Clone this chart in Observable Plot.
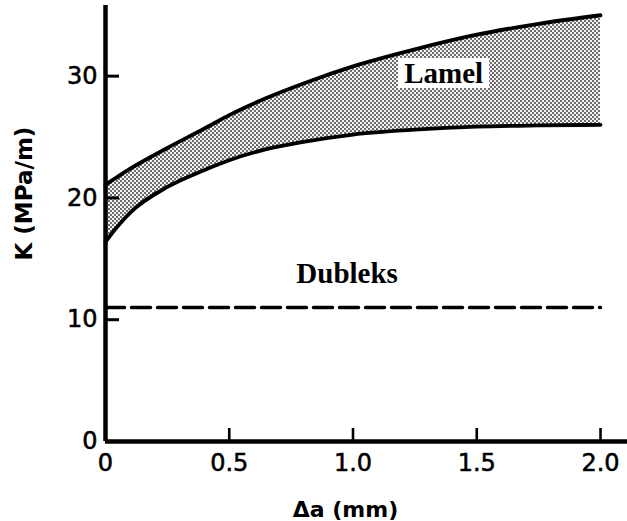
<!DOCTYPE html>
<html>
<head>
<meta charset="utf-8">
<script src="https://cdn.jsdelivr.net/npm/d3@7"></script>
<script src="https://cdn.jsdelivr.net/npm/@observablehq/plot@0.6"></script>
<style>
  html, body { margin: 0; padding: 0; background: #fff; }
  #chart svg { display: block; }
  #chart g[aria-label="y-axis tick label"] text,
  #chart g[aria-label="x-axis tick label"] text { stroke: #000; stroke-width: 0.55px; }
</style>
</head>
<body>
<div id="chart"></div>
<script>
// Crack extension Δa (mm) and fracture toughness K (MPa√m)
const da = [0, 0.05, 0.1, 0.25, 0.4, 0.5, 0.65, 0.8, 1.0, 1.25, 1.5, 1.75, 2.0];
const kLamelUpper = [21.1, 21.75, 22.4, 24.1, 25.7, 26.8, 28.2, 29.4, 30.8, 32.2, 33.4, 34.3, 35.0];
const kLamelLower = [16.4, 17.7, 18.8, 20.9, 22.3, 23.1, 24.0, 24.6, 25.2, 25.6, 25.85, 25.95, 26.0];

const dubleksDa = [0, 2.0];
const dubleksK = [11.0, 11.0];

const xTicks = [0, 0.5, 1.0, 1.5, 2.0];
const xTickLabels = ["0", "0.5", "1.0", "1.5", "2.0"];
const yTicks = [0, 10, 20, 30];
const yTickLabels = ["0", "10", "20", "30"];

const seriesLabels = [
  {name: "Lamel", da: 1.366, k: 30.2},
  {name: "Dubleks", da: 0.976, k: 13.8}
];

const lamel = da.map((d, i) => ({da: d, lower: kLamelLower[i], upper: kLamelUpper[i]}));
const dubleks = dubleksDa.map((d, i) => ({da: d, k: dubleksK[i]}));

const sans = "DejaVu Sans, Liberation Sans, sans-serif";
const serif = "Liberation Serif, Times New Roman, serif";

const plot = Plot.plot({
  width: 627,
  height: 521,
  marginLeft: 105,
  marginRight: 0,
  marginTop: 5,
  marginBottom: 80,
  style: {fontFamily: sans, background: "#fff", color: "#000"},
  x: {domain: [0, 2.109], label: null},
  y: {domain: [0, 35.8], label: null},
  marks: [
    // shaded band between the two Lamel curves
    Plot.areaY(lamel, {x: "da", y1: "lower", y2: "upper", curve: "monotone-x", fill: "url(#lamel-dots)"}),
    Plot.line(lamel, {x: "da", y: "upper", curve: "monotone-x", stroke: "#000", strokeWidth: 3.8}),
    Plot.line(lamel, {x: "da", y: "lower", curve: "monotone-x", stroke: "#000", strokeWidth: 3.8}),
    // Dubleks level
    Plot.line(dubleks, {x: "da", y: "k", stroke: "#000", strokeWidth: 3.5, strokeDasharray: "19,7"}),
    // inward ticks
    Plot.axisY(yTicks, {tickSize: -14, text: null, strokeWidth: 3}),
    Plot.axisX(xTicks, {tickSize: -13, text: null, strokeWidth: 2.6}),
    // tick labels
    Plot.axisY(yTicks, {tickSize: 0, tickPadding: 8, fontSize: 24, tickFormat: (d) => yTickLabels[yTicks.indexOf(d)]}),
    Plot.axisX(xTicks, {tickSize: 0, tickPadding: 12, fontSize: 24, tickFormat: (d) => xTickLabels[xTicks.indexOf(d)]}),
    // axis lines
    Plot.ruleX([0], {stroke: "#000", strokeWidth: 4.5}),
    Plot.ruleY([0], {stroke: "#000", strokeWidth: 4.5}),
    // axis titles
    Plot.text(["K (MPa/m)"], {frameAnchor: "left", rotate: -90, dx: -81, dy: 37, fontSize: 23, fontWeight: "bold"}),
    Plot.text(["Δa (mm)"], {frameAnchor: "bottom", dx: -21, dy: 75, fontSize: 22, fontWeight: "bold"}),
    // series names
    Plot.text(seriesLabels, {x: "da", y: "k", text: "name", fontFamily: serif, fontWeight: "bold", fontSize: 29, fill: "#000"})
  ]
});

document.getElementById("chart").appendChild(plot);

// dotted screen used for the shaded band
const svgNS = "http://www.w3.org/2000/svg";
const defs = document.createElementNS(svgNS, "defs");
defs.innerHTML = `
  <pattern id="lamel-dots" width="4" height="4" patternUnits="userSpaceOnUse">
    <rect width="4" height="4" fill="#f4f4f4"></rect>
    <circle cx="1" cy="1" r="0.9" fill="#2a2a2a"></circle>
    <circle cx="3" cy="3" r="0.9" fill="#2a2a2a"></circle>
  </pattern>`;
plot.insertBefore(defs, plot.firstChild);

// white box behind the Lamel name
for (const t of plot.querySelectorAll("text")) {
  if (t.textContent === "Lamel") {
    const b = t.getBBox();
    const r = document.createElementNS(svgNS, "rect");
    r.setAttribute("x", b.x - 6);
    r.setAttribute("y", b.y + 1);
    r.setAttribute("width", b.width + 12);
    r.setAttribute("height", b.height - 2);
    r.setAttribute("fill", "#fff");
    const tr = t.getAttribute("transform");
    if (tr) r.setAttribute("transform", tr);
    t.parentNode.insertBefore(r, t);
  }
}
</script>
</body>
</html>
